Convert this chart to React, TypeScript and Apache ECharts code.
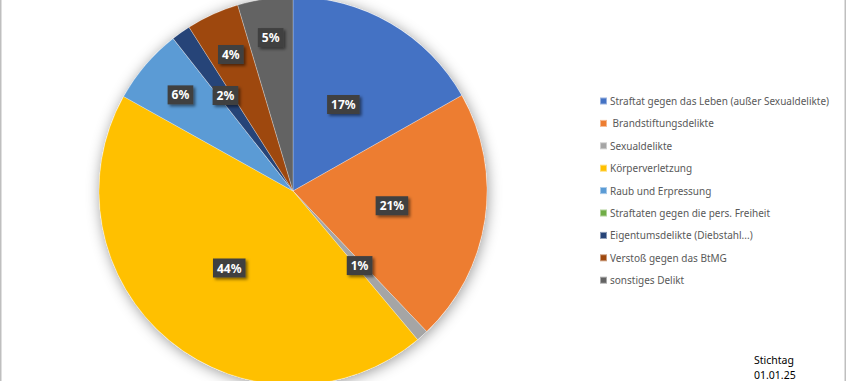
import React, { useEffect, useRef } from "react";
import * as echarts from "echarts";

const categories = [
  "Straftat gegen das Leben (außer Sexualdelikte)",
  "\u00a0Brandstiftungsdelikte",
  "Sexualdelikte",
  "Körperverletzung",
  "Raub und Erpressung",
  "Straftaten gegen die pers. Freiheit",
  "Eigentumsdelikte (Diebstahl...)",
  "Verstoß gegen das BtMG",
  "sonstiges Delikt",
];
const values = [16.8, 21.1, 1.0, 44.2, 6.3, 0, 1.6, 4.4, 4.6];
const colors = ["#4472C4", "#ED7D31", "#A5A5A5", "#FFC000", "#5B9BD5", "#70AD47", "#264478", "#9E480E", "#636363"];
// radial push factor for label placement (best-fit style)
const labelPush = [1, 1, 1, 1, 1.48, 1, 1.17, 1.5, 1.55];

const CX = 293;
const CY = 191;
const R = 194;

export default function App() {
  const ref = useRef<HTMLDivElement>(null);
  useEffect(() => {
    document.body.style.margin = "0";
    const chart = echarts.init(ref.current!, null, { renderer: "svg" });
    const font = "'Noto Sans', sans-serif";
    chart.setOption({
      animation: false,
      backgroundColor: "#ffffff",
      legend: {
        orient: "vertical",
        left: 594,
        top: 90,
        icon: "rect",
        itemWidth: 7,
        itemHeight: 7,
        itemGap: 10.4,
        data: categories,
        textStyle: { color: "#595959", fontSize: 10, fontFamily: font, lineHeight: 12, padding: [0, 0, 0, -2] },
      },
      graphic: [
        { type: "rect", shape: { x: 0, y: 0, width: 1.5, height: 381 }, style: { fill: "#bfbfbf" }, z: 100 },
        { type: "rect", shape: { x: 844.5, y: 0, width: 1.5, height: 381 }, style: { fill: "#bfbfbf" }, z: 100 },
        {
          type: "text",
          x: 754,
          y: 352,
          style: { text: "Stichtag\n01.01.25", fill: "#000000", fontSize: 10.5, lineHeight: 15, fontFamily: font },
        },
      ],
      series: [
        {
          type: "pie",
          silent: true,
          center: [CX, CY],
          radius: [0, R],
          label: { show: false },
          labelLine: { show: false },
          itemStyle: { color: "#ffffff", shadowBlur: 14, shadowColor: "rgba(0,0,0,0.4)", shadowOffsetX: 1, shadowOffsetY: 2 },
          data: [{ name: "__bg", value: 1 }],
          z: 1,
        },
        {
          type: "pie",
          center: [CX, CY],
          radius: [0, R],
          startAngle: 90,
          clockwise: true,
          avoidLabelOverlap: false,
          z: 2,
          itemStyle: { borderColor: "rgba(255,255,255,0.45)", borderWidth: 0.6 },
          label: {
            show: true,
            position: "inside",
            formatter: (p: any) => (p.value > 0 ? Math.round(p.percent) + "%" : ""),
            color: "#ffffff",
            fontWeight: "bold",
            fontSize: 12,
            fontFamily: font,
            backgroundColor: "#404040",
            padding: [4, 4, 3, 4],
            shadowBlur: 3,
            shadowColor: "rgba(0,0,0,0.5)",
            shadowOffsetX: 2,
            shadowOffsetY: 2,
          },
          labelLine: { show: false },
          labelLayout: (params: any) => {
            const k = labelPush[params.dataIndex] ?? 1;
            const r = params.labelRect;
            const lx = r.x + r.width / 2;
            const ly = r.y + r.height / 2;
            return { dx: (lx - CX) * (k - 1), dy: (ly - CY) * (k - 1) };
          },
          data: categories.map((name, i) => ({
            name,
            value: values[i],
            itemStyle: { color: colors[i] },
            label: { show: values[i] > 0 },
          })),
        },
      ],
    });
    return () => chart.dispose();
  }, []);
  return <div ref={ref} style={{ width: 847, height: 381 }} />;
}
